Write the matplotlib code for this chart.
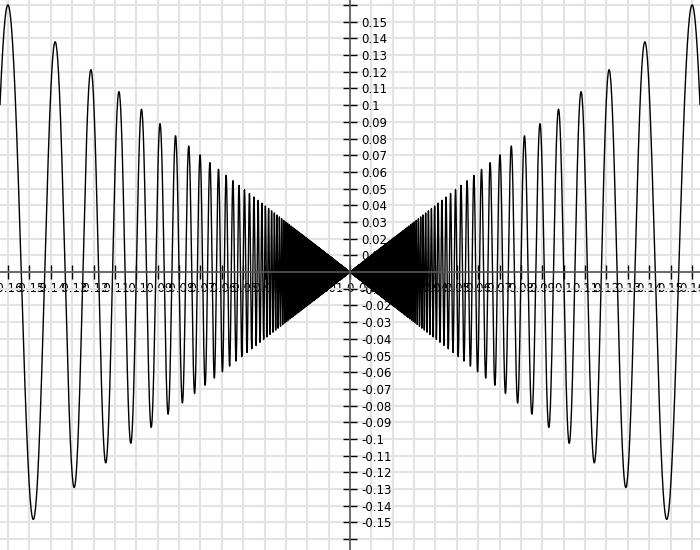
import matplotlib.pyplot as plt
import matplotlib.ticker as ticker
import numpy as np

# Curve drawn in the reference: y = x * sin(2*pi / x)
x_min, x_max = -0.1638, 0.1638
y_min, y_max = -0.1665, 0.163
angular_factor = 2 * np.pi
n_samples = 60000

# tick values (step 0.01), labels printed in %g style
x_ticks = np.round(np.arange(-0.16, 0.1601, 0.01), 2)
y_ticks = np.round(np.arange(-0.16, 0.1601, 0.01), 2)
y_hidden = [-0.16, 0.0, 0.16]

x = np.linspace(x_min, x_max, n_samples)
x = x[x != 0]
y = x * np.sin(angular_factor / x)

fig = plt.figure(figsize=(7, 5.5), dpi=100, facecolor="white")
ax = fig.add_axes([0, 0, 1, 1])

ax.plot(x, y, color="black", linewidth=1.0, zorder=3)

ax.set_xlim(x_min, x_max)
ax.set_ylim(y_min, y_max)

# centred axes, like a function grapher
for side in ("top", "right"):
    ax.spines[side].set_visible(False)
ax.spines["left"].set_position(("data", 0))
ax.spines["bottom"].set_position(("data", 0))
for side in ("left", "bottom"):
    ax.spines[side].set_color("#555555")
    ax.spines[side].set_linewidth(1.2)
    ax.spines[side].set_zorder(4)

ax.set_xticks(x_ticks)
ax.set_yticks(y_ticks)
ax.xaxis.set_major_formatter(ticker.FuncFormatter(lambda v, p: f"{v:g}" if abs(v) > 1e-9 else "0"))
ax.yaxis.set_major_formatter(ticker.FuncFormatter(
    lambda v, p: "" if any(abs(v - h) < 1e-9 for h in y_hidden) else f"{v:g}"))

ax.tick_params(axis="both", direction="inout", length=10, width=1, color="black",
               labelsize=8.5)
ax.tick_params(axis="x", pad=2)
ax.tick_params(axis="y", left=True, right=False, labelleft=True, labelright=False, pad=-13)
for lbl in ax.get_yticklabels():
    lbl.set_horizontalalignment("left")

ax.grid(True, color="#e3e3e3", linewidth=1.5, zorder=0)
ax.set_axisbelow(True)

fig.savefig("out.png", dpi=100, facecolor="white")
